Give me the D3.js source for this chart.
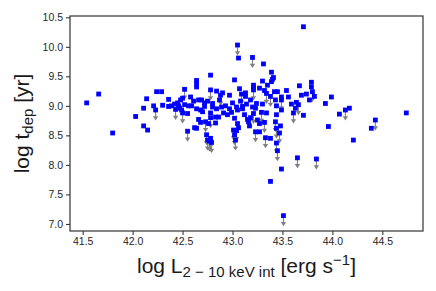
<!DOCTYPE html>
<meta charset="utf-8">
<style>
body { margin: 0; background: #fff; }
.tick text { font-family: "Liberation Sans", Arial, sans-serif; font-size: 10.5px; fill: #262626; }
.tick line { stroke: #262626; }
.lbl { font-family: "Liberation Sans", Arial, sans-serif; font-size: 21px; fill: #1a1a1a; }
</style>
<svg width="436" height="291"></svg>
<script src="https://d3js.org/d3.v7.min.js"></script>
<script>

// detections: log L(2-10 keV), log t_dep
var detX = [41.54,41.66,41.80,42.03,42.11,42.14,42.11,42.15,42.21,42.24,42.29,42.30,42.36,42.36,42.39,42.42,42.45,42.46,42.47,42.48,
  42.50,42.52,42.49,42.55,42.58,42.59,42.61,42.62,42.64,42.64,42.64,42.64,42.64,42.66,42.69,42.68,42.70,42.66,42.68,42.72,
  42.76,42.72,42.78,42.78,42.80,42.80,42.83,42.83,42.84,42.86,42.87,42.89,42.90,42.91,42.93,42.97,42.97,42.99,43.00,43.02,
  43.02,43.04,43.05,43.06,43.05,43.06,43.07,43.10,43.10,43.12,43.13,43.13,43.14,43.15,43.16,43.17,43.18,43.21,43.21,43.20,
  43.23,43.24,43.25,43.27,43.27,43.30,43.30,43.31,43.32,43.35,43.38,43.38,43.39,43.39,43.40,43.41,43.42,43.44,43.44,43.45,
  43.48,43.49,43.49,43.49,43.54,43.56,43.59,43.63,43.64,43.67,43.69,43.71,43.71,43.74,43.77,43.79,43.79,43.82,43.93,43.96,
  43.99,44.07,44.17,44.21,44.39,44.74,42.56,42.75,42.95,43.08,43.18,43.27,43.34,43.43,42.84];
var detY = [9.05,9.20,8.54,8.82,8.96,9.12,8.66,8.59,9.00,9.24,9.24,9.01,9.11,8.99,9.00,9.03,9.05,9.00,8.96,9.10,
  9.13,9.02,8.93,8.87,9.15,9.00,9.08,8.63,8.62,9.43,9.38,9.32,8.95,9.10,9.10,8.93,8.90,8.77,8.72,9.05,
  8.70,8.99,9.52,8.88,8.98,9.04,8.81,8.71,9.25,8.81,9.10,8.98,9.22,8.88,9.00,9.18,8.95,8.89,9.05,9.44,
  8.79,8.98,8.93,9.81,8.70,8.63,9.29,8.95,8.99,8.85,9.22,9.16,9.03,8.77,8.73,8.66,8.80,9.35,9.31,8.98,
  8.96,9.04,8.76,9.30,8.56,9.03,9.42,9.71,9.26,9.35,8.45,7.72,9.57,9.41,9.45,9.48,9.24,8.85,9.00,9.24,
  8.66,8.93,9.15,7.93,9.26,9.15,9.03,8.96,9.06,9.34,9.18,8.84,10.34,9.20,9.10,9.40,9.32,9.16,9.04,8.65,
  9.15,8.86,8.96,8.42,8.62,8.88,9.00,9.08,8.85,9.08,9.10,8.70,8.88,9.10,8.95];

// upper limits
var ulX = [42.23,42.43,42.50,42.52,42.55,42.73,42.74,42.75,42.77,42.78,42.79,42.78,42.78,42.88,43.01,43.02,43.03,43.05,43.09,43.20,
  43.21,43.21,43.23,43.29,43.32,43.33,43.34,43.38,43.43,43.44,43.44,43.45,43.47,43.49,43.51,43.61,43.65,43.66,43.80,43.84,
  44.13,44.43,43.04];
var ulY = [8.93,8.94,8.88,9.28,8.57,8.73,8.51,8.42,8.40,8.45,8.38,9.27,8.80,9.18,8.59,8.51,8.42,10.03,9.20,9.82,
  9.27,8.87,8.56,8.89,8.72,8.46,9.21,9.16,8.73,8.62,8.37,8.24,8.54,9.10,7.14,8.88,8.12,9.02,9.24,8.10,
  8.93,8.76,8.58];

var xTicks = [41.5,42.0,42.5,43.0,43.5,44.0,44.5];
var yTicks = [7.0,7.5,8.0,8.5,9.0,9.5,10.0,10.5];

var svg = d3.select("svg"),
    pl = 70, pr = 423, pt = 16, pb = 231;

var x = d3.scaleLinear().domain([41.373, 44.907]).range([pl, pr]);
var y = d3.scaleLinear().domain([6.88, 10.522]).range([pb, pt]);

svg.append("g")
    .attr("transform", "translate(0," + pb + ")")
    .call(d3.axisBottom(x).tickValues(xTicks).tickFormat(d3.format(".1f")).tickSize(4).tickPadding(3))
    .call(function(g) { g.select(".domain").remove(); });

svg.append("g")
    .attr("transform", "translate(" + pl + ",0)")
    .call(d3.axisLeft(y).tickValues(yTicks).tickFormat(d3.format(".1f")).tickSize(4).tickPadding(3))
    .call(function(g) { g.select(".domain").remove(); });

svg.append("rect")
    .attr("x", pl).attr("y", pt)
    .attr("width", pr - pl).attr("height", pb - pt)
    .attr("fill", "none").attr("stroke", "#333").attr("stroke-width", 1.2);

// upper limit arrows
var arr = svg.append("g").selectAll("g").data(d3.range(ulX.length)).enter().append("g")
    .attr("transform", function(i) { return "translate(" + x(ulX[i]) + "," + y(ulY[i]) + ")"; });
arr.append("line").attr("x1", 0).attr("y1", 0).attr("x2", 0).attr("y2", 8)
    .attr("stroke", "#808080").attr("stroke-width", 1.1);
arr.append("path").attr("d", "M-2.7,6.3L2.7,6.3L0,10.5Z").attr("fill", "#808080");

var pts = detX.map(function(d, i) { return [d, detY[i]]; })
    .concat(ulX.map(function(d, i) { return [d, ulY[i]]; }));

svg.append("g").selectAll("rect").data(pts).enter().append("rect")
    .attr("x", function(d) { return x(d[0]) - 2.4; })
    .attr("y", function(d) { return y(d[1]) - 2.4; })
    .attr("width", 4.8).attr("height", 4.8)
    .attr("fill", "#0000ff");

// axis labels
var xl = svg.append("text").attr("class", "lbl")
    .attr("x", (pl + pr) / 2).attr("y", 273).attr("text-anchor", "middle");
xl.append("tspan").text("log L");
xl.append("tspan").attr("dy", 4).style("font-size", "15px").text("2 \u2212 10 keV int");
xl.append("tspan").attr("dy", -4).text(" [erg s");
xl.append("tspan").attr("dy", -8).style("font-size", "15px").text("\u22121");
xl.append("tspan").attr("dy", 8).text("]");

var yl = svg.append("text").attr("class", "lbl")
    .attr("transform", "translate(29," + ((pt + pb) / 2) + ") rotate(-90)")
    .attr("text-anchor", "middle");
yl.append("tspan").text("log t");
yl.append("tspan").attr("dy", 4).style("font-size", "15px").text("dep");
yl.append("tspan").attr("dy", -4).text(" [yr]");

</script>
